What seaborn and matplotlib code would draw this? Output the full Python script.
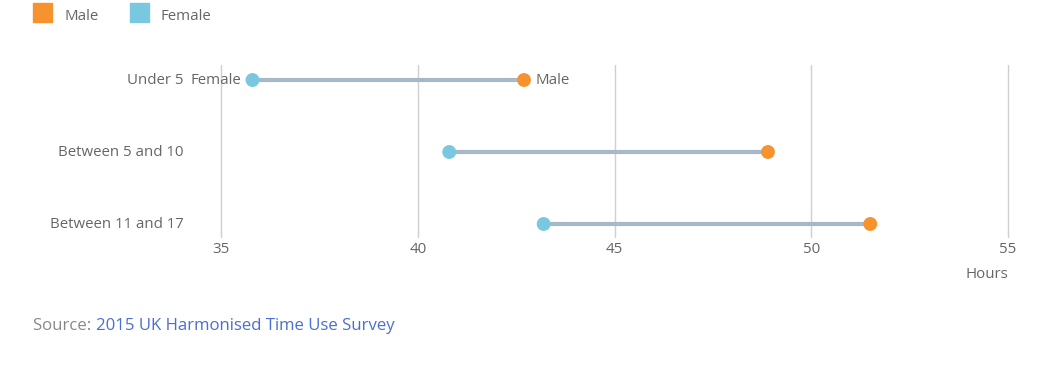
import matplotlib
matplotlib.use("Agg")
import matplotlib.pyplot as plt
import seaborn as sns
import pandas as pd
from matplotlib.patches import Rectangle

categories = ["Under 5", "Between 5 and 10", "Between 11 and 17"]
male = [42.7, 48.9, 51.5]
female = [35.8, 40.8, 43.2]
xticks = [35, 40, 45, 50, 55]

MALE_C = "#f7932f"
FEMALE_C = "#7ac7e0"
LINE_C = "#a7b8c9"
TEXT_C = "#666666"

sns.set_theme(style="white")
plt.rcParams["font.family"] = ["Open Sans", "DejaVu Sans"]

W, H = 1042, 381
fig = plt.figure(figsize=(W / 100, H / 100), dpi=100)
ax = fig.add_axes([221 / W, 1 - 237 / H, (1008 - 221) / W, (237 - 65) / H])

df = pd.DataFrame({
    "group": categories * 2,
    "hours": male + female,
    "sex": ["Male"] * len(categories) + ["Female"] * len(categories),
})

ypos = list(range(len(categories)))
ax.hlines(ypos, female, male, color=LINE_C, lw=3, zorder=2)
sns.scatterplot(data=df, x="hours", y="group", hue="sex",
                palette={"Male": MALE_C, "Female": FEMALE_C},
                s=100, edgecolor="none", legend=False, zorder=3, ax=ax)

ax.set_xlim(35, 55)
ax.set_ylim(2 + 13 / 72, -15 / 72)
ax.set_xticks(xticks)
ax.set_xticklabels([str(t) for t in xticks])
ax.grid(axis="x", color="#d0d0d0", lw=1)
ax.grid(axis="y", visible=False)
for gl in ax.get_xgridlines():
    gl.set_clip_on(False)
ax.set_axisbelow(True)
for s in ax.spines.values():
    s.set_visible(False)
ax.tick_params(axis="both", length=0, labelsize=10.8, colors=TEXT_C)
ax.tick_params(axis="x", pad=3.5)
ax.tick_params(axis="y", pad=27)
for lbl in ax.get_yticklabels():
    lbl.set_verticalalignment("center")
ax.set_xlabel("")
ax.set_ylabel("")

# end labels on first row
ax.text(female[0] - 0.28, 0, "Female", ha="right", va="center", fontsize=10.8, color=TEXT_C)
ax.text(male[0] + 0.28, 0, "Male", ha="left", va="center", fontsize=10.8, color=TEXT_C)

# axis title
fig.text(1008 / W, 1 - 275 / H, "Hours", ha="right", va="center", fontsize=10.8, color=TEXT_C)

# legend
for x0, lab, col, tx in [(33, "Male", MALE_C, 64), (130, "Female", FEMALE_C, 161)]:
    fig.patches.append(Rectangle((x0 / W, 1 - 22 / H), 19 / W, 19 / H,
                                 transform=fig.transFigure, color=col))
    fig.text(tx / W, 1 - 16 / H, lab, ha="left", va="center", fontsize=10.8, color=TEXT_C)

# source
t1 = fig.text(33 / W, 1 - 326 / H, "Source: ", ha="left", va="center", fontsize=12.1, color="#888888")
fig.canvas.draw()
bb = t1.get_window_extent()
fig.text(bb.x1 / W, 1 - 326 / H, "2015 UK Harmonised Time Use Survey", ha="left", va="center",
         fontsize=12.1, color="#4a6fd4")

fig.savefig("out.png", dpi=100)
